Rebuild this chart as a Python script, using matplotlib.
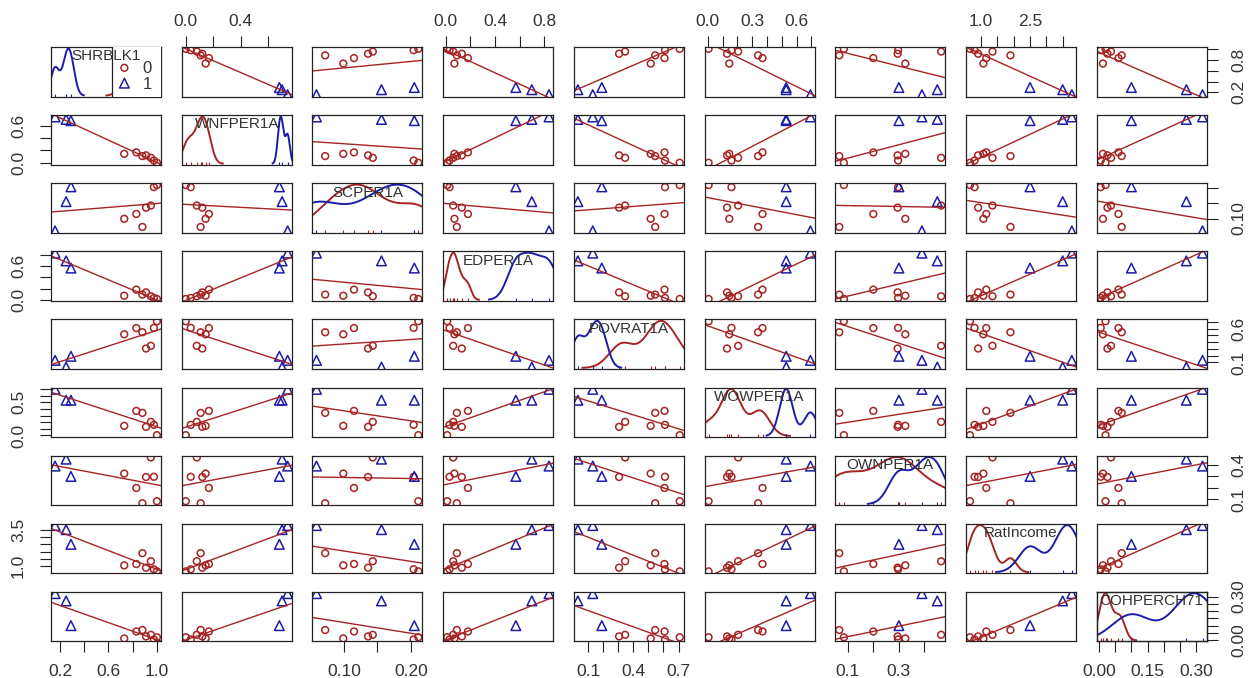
import numpy as np
import matplotlib
matplotlib.use('Agg')
import matplotlib.pyplot as plt
from matplotlib.patches import Rectangle
from matplotlib.transforms import blended_transform_factory

plt.rcParams['font.family'] = ['Liberation Sans', 'DejaVu Sans']

# datos: 7 observaciones del grupo 0 y 3 del grupo 1
grupo = [0, 0, 0, 0, 0, 0, 0, 1, 1, 1]
shrblk1 = [0.73, 0.83, 0.88, 0.91, 0.95, 0.975, 1.00, 0.159, 0.25, 0.29]
wnfper1a = [0.144, 0.168, 0.108, 0.12, 0.08, 0.036, 0.0, 0.74, 0.70, 0.68]
scper1a = [0.099, 0.115, 0.072, 0.136, 0.143, 0.204, 0.211, 0.059, 0.156, 0.205]
edper1a = [0.07, 0.18, 0.09, 0.13, 0.06, 0.03, 0.011, 0.84, 0.70, 0.57]
povrat1a = [0.515, 0.607, 0.545, 0.305, 0.345, 0.61, 0.708, 0.13, 0.031, 0.19]
wowper1a = [0.145, 0.37, 0.34, 0.13, 0.205, 0.16, 0.005, 0.694, 0.53, 0.53]
ownper1a = [0.325, 0.20, 0.067, 0.295, 0.465, 0.297, 0.085, 0.39, 0.45, 0.30]
ratincome = [1.07, 1.16, 1.90, 0.91, 1.35, 0.80, 0.66, 3.78, 3.50, 2.50]
cohperch71 = [0.012, 0.06, 0.07, 0.026, 0.037, 0.005, 0.02, 0.32, 0.27, 0.10]

nombres = ['SHRBLK1', 'WNFPER1A', 'SCPER1A', 'EDPER1A', 'POVRAT1A',
           'WOWPER1A', 'OWNPER1A', 'RatIncome', 'COHPERCH71']
datos = [shrblk1, wnfper1a, scper1a, edper1a, povrat1a,
         wowper1a, ownper1a, ratincome, cohperch71]

# marcas de los ejes y las etiquetas que R deja visibles (columna / fila)
ticks = [
    [0.2, 0.4, 0.6, 0.8, 1.0],
    [0.0, 0.2, 0.4, 0.6],
    [0.10, 0.15, 0.20],
    [0.0, 0.2, 0.4, 0.6, 0.8],
    [0.1, 0.2, 0.3, 0.4, 0.5, 0.6, 0.7],
    [0.0, 0.1, 0.2, 0.3, 0.4, 0.5, 0.6, 0.7],
    [0.1, 0.2, 0.3, 0.4],
    [1.0, 1.5, 2.0, 2.5, 3.0, 3.5],
    [0.00, 0.05, 0.10, 0.15, 0.20, 0.25, 0.30],
]
xlabs = [
    ['0.2', '', '0.6', '', '1.0'],
    ['0.0', '', '0.4', ''],
    ['0.10', '', '0.20'],
    ['0.0', '', '0.4', '', '0.8'],
    ['0.1', '', '', '0.4', '', '', '0.7'],
    ['0.0', '', '', '0.3', '', '', '0.6', ''],
    ['0.1', '', '0.3', ''],
    ['1.0', '', '', '2.5', '', ''],
    ['0.00', '', '', '0.15', '', '', '0.30'],
]
ylabs = [
    ['0.2', '', '', '0.8', ''],
    ['0.0', '', '', '0.6'],
    ['0.10', '', ''],
    ['0.0', '', '', '0.6', ''],
    ['0.1', '', '', '', '', '0.6', ''],
    ['0.0', '', '', '', '', '0.5', '', ''],
    ['0.1', '', '', '0.4'],
    ['1.0', '', '', '', '', '3.5'],
    ['0.00', '', '', '', '', '', '0.30'],
]

rojo = '#a52424'
azul = '#1c1ca8'
ctext = '#333333'
cejes = '#222222'


def bw_nrd0(x):
    x = np.asarray(x)
    s = np.std(x, ddof=1)
    q75, q25 = np.percentile(x, [75, 25])
    lo = min(s, (q75 - q25) / 1.34)
    if lo == 0:
        lo = s
    return 0.9 * lo * len(x) ** -0.2


def densidad(x):
    x = np.asarray(x)
    bw = bw_nrd0(x)
    g = np.linspace(x.min() - 3 * bw, x.max() + 3 * bw, 512)
    d = np.exp(-0.5 * ((g[:, None] - x[None, :]) / bw) ** 2).sum(axis=1)
    return g, d / d.max()


def limites(v):
    v = np.asarray(v)
    r = v.max() - v.min()
    return v.min() - 0.04 * r, v.max() + 0.04 * r


def estilo(a):
    for s in a.spines.values():
        s.set_color(cejes)
        s.set_linewidth(0.9)
    a.tick_params(length=8, width=0.8, color=cejes, labelsize=12.5, labelcolor=ctext)
    a.tick_params(axis='x', pad=8.5)
    a.tick_params(axis='y', pad=10)


nv = len(nombres)
grp = np.array(grupo)
arr = [np.array(d) for d in datos]
lims = [limites(d) for d in datos]

W, H = 1251, 678
fig = plt.figure(figsize=(W / 100, H / 100), dpi=100)
x0, dx, pw = 51, 130.7, 110
y0, dy, ph = 47, 68.1, 49.5

for i in range(nv):
    for j in range(nv):
        ax = fig.add_axes([(x0 + j * dx) / W, 1 - (y0 + i * dy + ph) / H, pw / W, ph / H])
        estilo(ax)
        ax.set_xlim(lims[j])
        yax = ax
        if i == j:
            ax.set_ylim(-0.02, 1.03)
            trans = blended_transform_factory(ax.transData, ax.transAxes)
            for k, c in [(0, rojo), (1, azul)]:
                v = arr[i][grp == k]
                g, d = densidad(v)
                ax.plot(g, d, color=c, lw=1.4)
                ax.vlines(v, 0, 0.06, colors=c, lw=0.8, transform=trans)
            ax.text(0.5, 1 - 9.3 / ph, nombres[i], transform=ax.transAxes,
                    ha='center', va='center', fontsize=11, color=ctext, zorder=6)
            ax.set_yticks([])
            if (j == 0 and i % 2 == 1) or (j == nv - 1 and i % 2 == 0):
                yax = ax.twinx()
                estilo(yax)
                yax.set_ylim(lims[i])
        else:
            ax.set_ylim(lims[i])
            xs, ys = arr[j], arr[i]
            m, b = np.polyfit(xs, ys, 1)
            lx = np.array(lims[j])
            ax.plot(lx, m * lx + b, color=rojo, lw=1.0)
            ax.scatter(xs[grp == 0], ys[grp == 0], s=24, marker='o',
                       facecolors='none', edgecolors=rojo, linewidths=1.1)
            ax.scatter(xs[grp == 1], ys[grp == 1], s=48, marker='^',
                       facecolors='none', edgecolors=azul, linewidths=1.1)

        # ejes horizontales alternados arriba/abajo
        if i == 0 and j % 2 == 1:
            ax.xaxis.tick_top()
            ax.tick_params(axis='x', pad=5)
            ax.set_xticks(ticks[j])
            ax.set_xticklabels(xlabs[j])
        elif i == nv - 1 and j % 2 == 0:
            ax.set_xticks(ticks[j])
            ax.set_xticklabels(xlabs[j])
        else:
            ax.set_xticks([])
        # ejes verticales alternados izquierda/derecha
        if j == 0 and i % 2 == 1:
            yax.yaxis.tick_left()
            yax.set_yticks(ticks[i])
            yax.set_yticklabels(ylabs[i], rotation=90, va='center')
        elif j == nv - 1 and i % 2 == 0:
            yax.yaxis.tick_right()
            yax.set_yticks(ticks[i])
            yax.set_yticklabels(ylabs[i], rotation=90, va='center')
        else:
            yax.set_yticks([])

        # leyenda dentro del primer panel
        if i == 0 and j == 0:
            ax.add_patch(Rectangle((0.55, -0.1), 0.6, 1.2, transform=ax.transAxes,
                                   facecolor='white', edgecolor=cejes, lw=0.9, zorder=5))
            ax.scatter([0.667], [0.58], s=24, marker='o', facecolors='none',
                       edgecolors=rojo, linewidths=1.1, transform=ax.transAxes, zorder=7)
            ax.scatter([0.667], [0.27], s=48, marker='^', facecolors='none',
                       edgecolors=azul, linewidths=1.1, transform=ax.transAxes, zorder=7)
            ax.text(0.872, 0.56, '0', transform=ax.transAxes, ha='center', va='center',
                    fontsize=12, color=ctext, zorder=7)
            ax.text(0.872, 0.24, '1', transform=ax.transAxes, ha='center', va='center',
                    fontsize=12, color=ctext, zorder=7)

fig.savefig('out.png', dpi=100)
